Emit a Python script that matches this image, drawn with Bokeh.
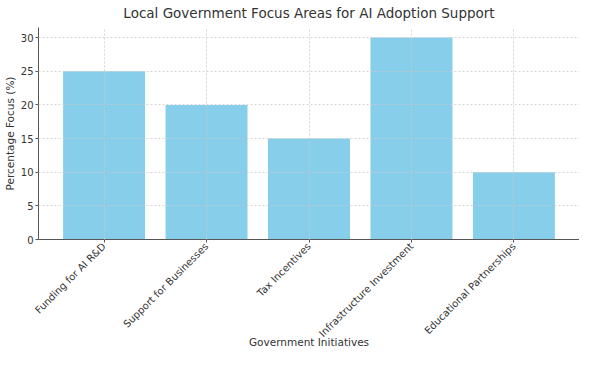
import math
from bokeh.plotting import figure
from bokeh.models import Range1d, FixedTicker, ColumnDataSource, Title
from bokeh.embed import file_html
from bokeh.resources import INLINE

categories = ["Funding for AI R&D", "Support for Businesses", "Tax Incentives",
              "Infrastructure Investment", "Educational Partnerships"]
values = [25, 20, 15, 30, 10]
y_ticks = [0, 5, 10, 15, 20, 25, 30]

xs = list(range(len(categories)))
src = ColumnDataSource(dict(x=xs, top=values))

FONT = "DejaVu Sans"
TXT = "#333333"

p = figure(width=579, height=350, output_backend="svg", toolbar_location=None,
           x_range=Range1d(-0.64, len(categories) - 1 + 0.64),
           y_range=Range1d(0, 31.5),
           min_border_left=0, min_border_right=0, min_border_top=0, min_border_bottom=0)

p.vbar(x="x", top="top", width=0.8, bottom=0, source=src,
       fill_color="#87CEEB", line_color=None)

p.title.text = "Local Government Focus Areas for AI Adoption Support"
p.title.align = "center"
p.title.text_font = FONT
p.title.text_font_size = "13.5px"
p.title.text_font_style = "normal"
p.title.text_color = TXT
p.title.offset = 0
p.title.standoff = 5

# small spacer above the title
p.add_layout(Title(text=" ", text_font_size="2px", standoff=0), "above")

p.outline_line_color = None

for ax in (p.xaxis[0], p.yaxis[0]):
    ax.axis_line_color = "#555555"
    ax.major_tick_line_color = "#555555"
    ax.minor_tick_line_color = None
    ax.major_tick_in = 0
    ax.major_tick_out = 3
    ax.major_label_text_font = FONT
    ax.major_label_text_font_size = "10px"
    ax.major_label_text_color = TXT
    ax.axis_label_text_font = FONT
    ax.axis_label_text_font_size = "10.5px"
    ax.axis_label_text_font_style = "normal"
    ax.axis_label_text_color = TXT
    ax.major_label_standoff = 2
    ax.axis_label_standoff = 2

p.xaxis.ticker = FixedTicker(ticks=xs)
p.xaxis.major_label_overrides = {i: c for i, c in enumerate(categories)}
p.xaxis.major_label_orientation = math.pi / 4
p.xaxis.axis_label = "Government Initiatives"
p.xaxis.axis_label_standoff = -10

p.yaxis.ticker = FixedTicker(ticks=y_ticks)
p.yaxis.axis_label = "Percentage Focus (%)"

for g in (p.xgrid[0], p.ygrid[0]):
    g.grid_line_color = "#cccccc"
    g.grid_line_dash = "2 2"
    g.grid_line_alpha = 0.8
    g.level = "overlay"

open("out.html", "w").write(file_html(p, INLINE))
